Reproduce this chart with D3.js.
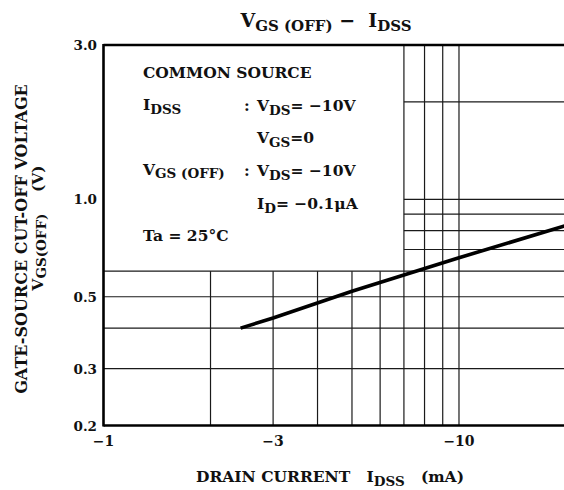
<!DOCTYPE html>
<html>
<head>
<meta charset="utf-8">
<script src="https://cdn.jsdelivr.net/npm/d3@7"></script>
<style>
  html, body { margin: 0; padding: 0; background: #fff; }
  svg text { font-family: "DejaVu Serif", "Liberation Serif", serif; font-weight: bold; fill: #111; white-space: pre; }
</style>
</head>
<body>
<svg id="chart" width="564" height="490"></svg>
<script>
// ---- data ----
const xTickValues = [1, 3, 10];
const xTickLabels = ["\u22121", "\u22123", "\u221210"];
const yTickValues = [0.2, 0.3, 0.5, 1.0, 3.0];
const yTickLabels = ["0.2", "0.3", "0.5", "1.0", "3.0"];
const xGridValues = [2, 3, 4, 5, 6, 7, 8, 9, 10];
const yGridValues = [0.3, 0.4, 0.5, 0.6, 0.7, 0.8, 0.9, 1.0, 2.0];
const idss = [2.43, 3, 5, 10, 20];          // |IDSS| (mA)
const vgsOff = [0.40, 0.43, 0.52, 0.66, 0.83]; // |VGS(OFF)| (V)
const boxX = 7, boxY = 0.6;  // legend box corner (data units)

const svg = d3.select("#chart");
const x = d3.scaleLog().domain([1, 20]).range([103.5, 566]);
const y = d3.scaleLog().domain([0.2, 3]).range([425.5, 45]);

// grid
const g = svg.append("g").attr("stroke", "#1a1a1a").attr("stroke-width", 1.2).attr("fill", "none");
g.selectAll("line.v").data(xGridValues).join("line")
  .attr("x1", d => x(d)).attr("x2", d => x(d))
  .attr("y1", y(0.2)).attr("y2", d => d < boxX ? y(boxY) : y(3));
g.selectAll("line.h").data(yGridValues).join("line")
  .attr("y1", d => y(d)).attr("y2", d => y(d))
  .attr("x1", d => d > boxY ? x(boxX) : x(1)).attr("x2", x(20));

// frame
const f = svg.append("g").attr("stroke", "#000").attr("fill", "none");
f.append("line").attr("x1", x(1)).attr("x2", x(1)).attr("y1", y(0.2) + 1).attr("y2", y(3) - 1).attr("stroke-width", 2.6);
f.append("line").attr("x1", x(1)).attr("x2", x(20)).attr("y1", y(0.2)).attr("y2", y(0.2)).attr("stroke-width", 2.6);
f.append("line").attr("x1", x(1)).attr("x2", x(20)).attr("y1", y(3)).attr("y2", y(3)).attr("stroke-width", 2.4);
f.append("line").attr("x1", x(20)).attr("x2", x(20)).attr("y1", y(0.2)).attr("y2", y(3)).attr("stroke-width", 2.4);

// data line
const pts = idss.map((d, i) => [d, vgsOff[i]]);
svg.append("path").datum(pts)
  .attr("d", d3.line().x(d => x(d[0])).y(d => y(d[1])))
  .attr("fill", "none").attr("stroke", "#000").attr("stroke-width", 3.6);

// tick labels
svg.selectAll("text.xt").data(xTickValues).join("text")
  .attr("x", d => x(d)).attr("y", 446).attr("text-anchor", "middle")
  .attr("font-size", 14).text((d, i) => xTickLabels[i]);
svg.selectAll("text.yt").data(yTickValues).join("text")
  .attr("x", 97).attr("y", d => y(d) + 5).attr("text-anchor", "end")
  .attr("font-size", 13.5).text((d, i) => yTickLabels[i]);

// helper for text with subscripts: parts = [[text, isSub], ...]
function rich(sel, parts, big, small, shift) {
  parts.forEach(([t, sub]) => {
    sel.append("tspan").attr("font-size", sub ? small : big)
      .attr("baseline-shift", sub ? -shift : 0).text(t);
  });
  return sel;
}

// title
rich(svg.append("text").attr("x", 326).attr("y", 27).attr("text-anchor", "middle"),
  [["V", 0], ["GS (OFF)", 1], [" \u2212  ", 0], ["I", 0], ["DSS", 1]], 19, 15, 4);

// x axis title
rich(svg.append("text").attr("x", 330).attr("y", 482).attr("text-anchor", "middle"),
  [["DRAIN CURRENT   I", 0], ["DSS", 1], ["   (mA)", 0]], 15.5, 13.5, 4);

// y axis title
svg.append("text").attr("transform", "translate(27,239) rotate(-90)")
  .attr("text-anchor", "middle").attr("font-size", 16).text("GATE-SOURCE CUT-OFF VOLTAGE");
rich(svg.append("text").attr("transform", "translate(43,228) rotate(-90)").attr("text-anchor", "middle"),
  [["V", 0], ["GS(OFF)", 1], ["    (V)", 0]], 15.5, 13.5, 3);

// legend
const L = svg.append("g");
const lx1 = 143, lx2 = 244, lx3 = 257, fs = 15.5, ss = 13.5;
L.append("text").attr("x", lx1).attr("y", 78).attr("font-size", fs).text("COMMON SOURCE");
rich(L.append("text").attr("x", lx1).attr("y", 110), [["I", 0], ["DSS", 1]], fs, ss, 4);
L.append("text").attr("x", lx2).attr("y", 111).attr("font-size", fs).text(":");
rich(L.append("text").attr("x", lx3).attr("y", 111), [["V", 0], ["DS", 1], ["= \u221210V", 0]], fs, ss, 4);
rich(L.append("text").attr("x", lx3).attr("y", 143), [["V", 0], ["GS", 1], ["=0", 0]], fs, ss, 4);
rich(L.append("text").attr("x", lx1).attr("y", 175), [["V", 0], ["GS (OFF)", 1]], fs, ss, 3);
L.append("text").attr("x", lx2).attr("y", 176).attr("font-size", fs).text(":");
rich(L.append("text").attr("x", lx3).attr("y", 176), [["V", 0], ["DS", 1], ["= \u221210V", 0]], fs, ss, 4);
rich(L.append("text").attr("x", lx3).attr("y", 209), [["I", 0], ["D", 1], ["= \u22120.1\u03bcA", 0]], fs, ss, 4);
L.append("text").attr("x", lx1).attr("y", 241).attr("font-size", fs).text("Ta = 25\u00b0C");
</script>
</body>
</html>
